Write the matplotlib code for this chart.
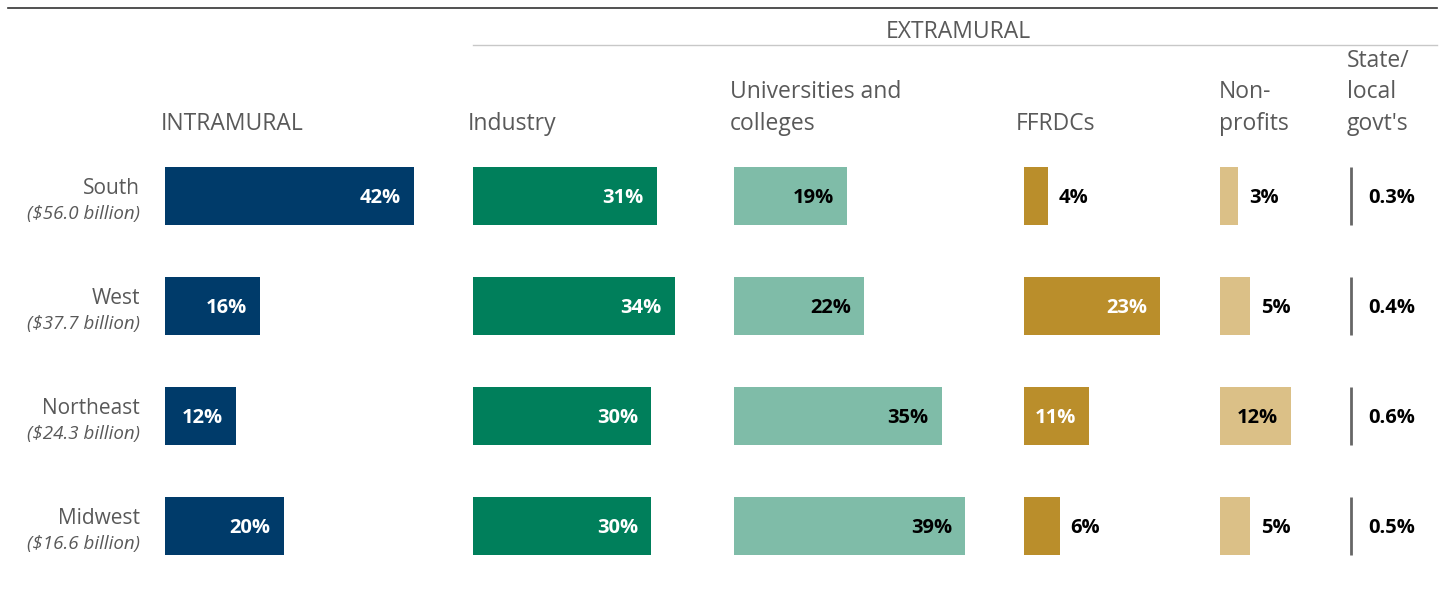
import matplotlib
matplotlib.use("Agg")
import matplotlib.pyplot as plt
from matplotlib.lines import Line2D

plt.rcParams['font.family'] = ['Open Sans', 'DejaVu Sans']

regions = ['South', 'West', 'Northeast', 'Midwest']
totals = ['($56.0 billion)', '($37.7 billion)', '($24.3 billion)', '($16.6 billion)']

headers = ['INTRAMURAL', 'Industry', 'Universities and\ncolleges', 'FFRDCs', 'Non-\nprofits', 'State/\nlocal\ngovt\'s']
intramural = [42, 16, 12, 20]
industry = [31, 34, 30, 30]
universities = [19, 22, 35, 39]
ffrdcs = [4, 23, 11, 6]
nonprofits = [3, 5, 12, 5]
state_local = [0.3, 0.4, 0.6, 0.5]
value_labels = [['42%', '16%', '12%', '20%'],
                ['31%', '34%', '30%', '30%'],
                ['19%', '22%', '35%', '39%'],
                ['4%', '23%', '11%', '6%'],
                ['3%', '5%', '12%', '5%'],
                ['0.3%', '0.4%', '0.6%', '0.5%']]

# layout (pixels)
W, H = 1440, 602
PX = 5.93                     # px per percentage point
col_x = [165, 473, 734, 1024, 1220, 1351]
hdr_x = [161, 468, 730, 1016, 1219, 1347]
colors = ['#003b6a', '#007f5b', '#7fbca8', '#ba8e2b', '#dbc087', '#666666']
txt_col = ['white', 'white', 'black', 'white', 'black', 'black']
row0, row_gap, bar_h = 196, 110, 58
gray = '#595959'
LAB_FS = 14.5
LAB_DY = 2

fig = plt.figure(figsize=(W / 100, H / 100), dpi=100)
ax = fig.add_axes([0, 0, 1, 1])
ax.set_xlim(0, W)
ax.set_ylim(H, 0)
ax.axis('off')

series = [intramural, industry, universities, ffrdcs, nonprofits, state_local]
ys = [row0 + row_gap * i for i in range(len(regions))]

for c, vals in enumerate(series):
    if c == 5:
        # tiny shares drawn as thin rule
        for y in ys:
            ax.plot([col_x[c], col_x[c]], [y - bar_h / 2, y + bar_h / 2], color=colors[c], lw=2, solid_capstyle='butt')
        for y, lab in zip(ys, value_labels[c]):
            ax.text(col_x[c] + 17, y + LAB_DY, lab, ha='left', va='center', fontsize=LAB_FS, fontweight='bold', color='black')
        continue
    widths = [v * PX for v in vals]
    ax.barh(ys, widths, height=bar_h, left=col_x[c], color=colors[c])
    for y, w, lab in zip(ys, widths, value_labels[c]):
        if w > 60:
            ax.text(col_x[c] + w - 13, y + LAB_DY, lab, ha='right', va='center', fontsize=LAB_FS, fontweight='bold', color=txt_col[c])
        else:
            ax.text(col_x[c] + w + 11, y + LAB_DY, lab, ha='left', va='center', fontsize=LAB_FS, fontweight='bold', color='black')

# region labels
for y, r, t in zip(ys, regions, totals):
    ax.text(140, y - 8, r, ha='right', va='center', fontsize=15, color=gray)
    ax.text(140, y + 18, t, ha='right', va='center', fontsize=13.5, style='italic', color=gray)

# column headers
for x, h in zip(hdr_x, headers):
    ax.text(x, 130, h, ha='left', va='baseline', fontsize=16.5, color=gray, linespacing=1.42)

ax.text(958, 32, 'EXTRAMURAL', ha='center', va='center', fontsize=16.5, color=gray)
ax.add_line(Line2D([473, 1437], [45, 45], color='#c8c8c8', lw=1))
ax.add_line(Line2D([8, 1437], [8, 8], color='#333333', lw=1.2))

fig.savefig('out.png', dpi=100)
